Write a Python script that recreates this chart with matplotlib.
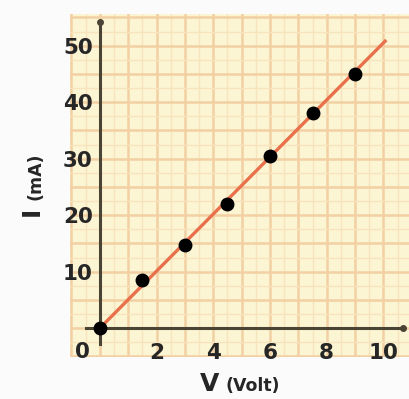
import matplotlib.pyplot as plt
import numpy as np

voltage = [0, 1.5, 3, 4.5, 6, 7.5, 9]
current = [0, 8.5, 14.8, 22, 30.5, 38, 45]

# best-fit line end points
line_v = [0, 10.1]
line_i = [0, 51]

x_ticks = [2, 4, 6, 8, 10]
y_ticks = [10, 20, 30, 40, 50]

paper = "#fcf5d3"
major = "#f2d0a4"
minor = "#f8e4bc"
axis_col = "#4a4434"
text_col = "#262626"
font = "DejaVu Sans"

fig = plt.figure(figsize=(4.09, 3.99), dpi=100)
fig.patch.set_facecolor("#fbfbfb")
ax = fig.add_axes([70 / 409, 42 / 399, 339 / 409, 343 / 399])
ax.set_facecolor(paper)
ax.set_xlim(-1.05, 10.9)
ax.set_ylim(-5.1, 55.6)

# graph paper
for v in np.arange(-1, 11, 0.5):
    is_major = v == int(v)
    ax.axvline(v, color=major if is_major else minor, lw=1.8 if is_major else 1.0, zorder=0)
for i in np.arange(-5, 56, 2.5):
    is_major = i % 5 == 0
    ax.axhline(i, color=major if is_major else minor, lw=1.8 if is_major else 1.0, zorder=0)

for s in ["top", "right"]:
    ax.spines[s].set_visible(False)
ax.spines["left"].set_position(("data", 0))
ax.spines["bottom"].set_position(("data", 0))
ax.spines["left"].set_bounds(-2.8, 54.2)
ax.spines["bottom"].set_bounds(-0.5, 10.7)
for s in ["left", "bottom"]:
    ax.spines[s].set_color(axis_col)
    ax.spines[s].set_linewidth(2.2)
ax.plot([0], [54.2], marker="o", ms=4, color=axis_col, clip_on=False, zorder=3)
ax.plot([10.7], [0], marker="o", ms=4, color=axis_col, clip_on=False, zorder=3)

ax.set_xticks(x_ticks)
ax.set_yticks(y_ticks)
ax.tick_params(length=0, labelsize=15.5, labelcolor=text_col)
ax.tick_params(axis="x", pad=11)
ax.tick_params(axis="y", pad=5)
for lab in ax.get_xticklabels() + ax.get_yticklabels():
    lab.set_fontweight("bold")
    lab.set_family(font)
ax.text(-0.6, -4.2, "0", fontsize=15.5, fontweight="bold", color=text_col,
        family=font, ha="center", va="center")

ax.plot(line_v, line_i, color="#e8714c", lw=2.4, zorder=2, solid_capstyle="butt")
ax.plot(voltage, current, "o", color="black", ms=9, zorder=4, clip_on=False)

# axis titles
fig.text(210 / 409, 1 - 384 / 399, "V", fontsize=18, fontweight="bold", color=text_col,
         family=font, ha="center", va="center")
fig.text(253 / 409, 1 - 386 / 399, "(Volt)", fontsize=12.5, fontweight="bold", color=text_col,
         family=font, ha="center", va="center")
fig.text(32 / 409, 1 - 211 / 399, "I", fontsize=18, fontweight="bold", color=text_col,
         family=font, ha="center", va="center", rotation=90)
fig.text(35 / 409, 1 - 176 / 399, "(mA)", fontsize=12.5, fontweight="bold", color=text_col,
         family=font, ha="center", va="center", rotation=90)

fig.savefig("out.png", dpi=100, facecolor=fig.get_facecolor())
